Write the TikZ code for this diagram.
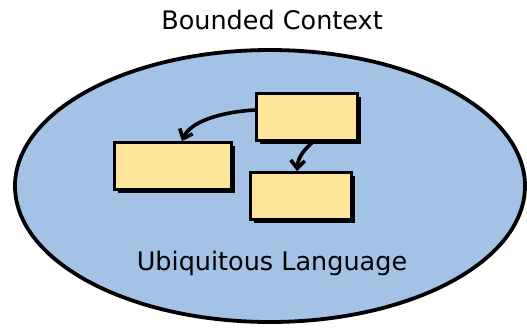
\documentclass[tikz,border=0pt]{standalone}
\usepackage{fontspec}
\setmainfont{DejaVu Sans}
\usetikzlibrary{arrows.meta,shadows,shapes.geometric}
\definecolor{ctxblue}{RGB}{164,194,230}
\definecolor{boxyellow}{RGB}{252,228,152}
\tikzset{
  entity/.style={draw=black, line width=2.8pt, fill=boxyellow, minimum width=#1, minimum height=47pt, inner sep=0pt,
    drop shadow={shadow xshift=3.5pt, shadow yshift=-3.5pt, fill=black, opacity=1}},
  link/.style={line width=3.6pt, -{Straight Barb[length=8pt,width=14pt,line width=3.6pt]}},
  label/.style={font=\fontsize{25.5}{28}\selectfont, text=black}
}
\begin{document}
\begin{tikzpicture}[x=1pt,y=-1pt]
\useasboundingbox (0,0) rectangle (527,327);
\node[draw=black, line width=3.8pt, fill=ctxblue, ellipse, minimum width=510pt, minimum height=272pt, inner sep=0pt] (ctx) at (270,186) {};
\node[label] (title) at (272,20) {Bounded Context};
\node[label] (ul) at (272,263) {Ubiquitous Language};
\node[entity=101pt] (a) at (307,117) {};
\node[entity=117pt] (b) at (173,166) {};
\node[entity=101pt] (c) at (301,196) {};
\draw[link] (a.west |- 0,110) .. controls (220,112) and (190,122) .. (b.north -| 182,0);
\draw[link] (a.south -| 313,0) .. controls (306,148) and (298,156) .. (c.north -| 297,0);
\end{tikzpicture}
\end{document}
